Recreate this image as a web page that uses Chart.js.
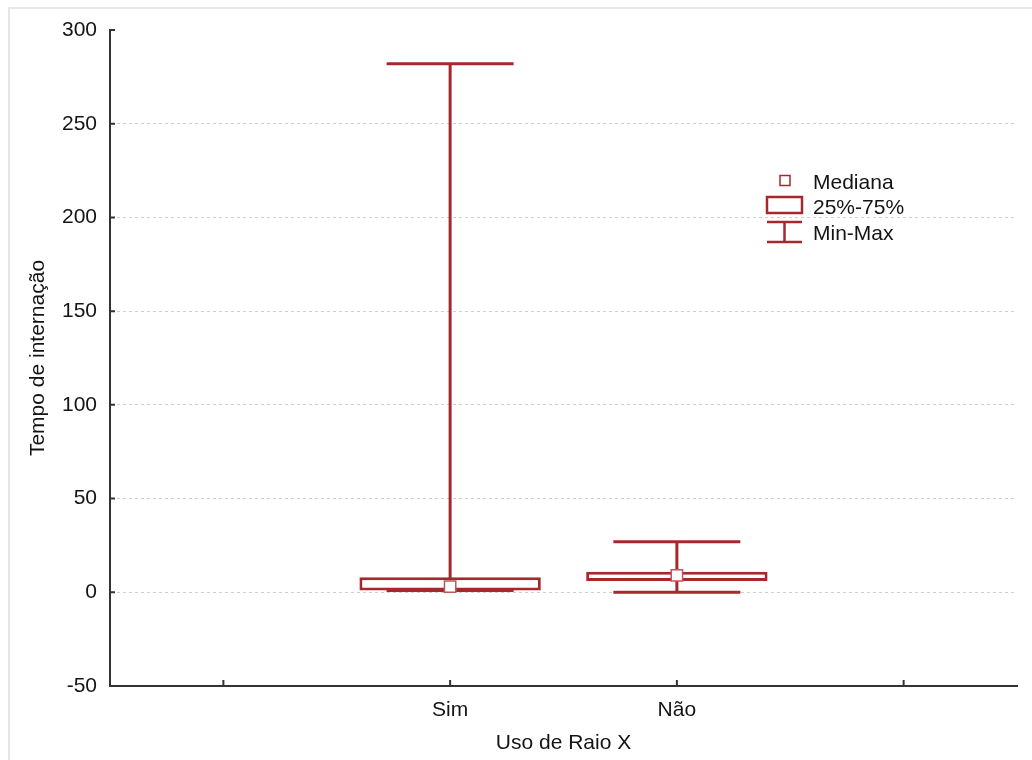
<!DOCTYPE html>
<html lang="pt-br">
<head>
    <meta charset="UTF-8">
    <title>Tempo de internação por uso de Raio X</title>
    <style>
        html, body { margin: 0; padding: 0; background: #ffffff; }
        #wrap { position: relative; width: 1032px; height: 760px; }
    </style>
</head>
<body>
    <div id="wrap">
        <canvas id="boxChart" width="1032" height="760"></canvas>
    </div>

    <script src="https://cdn.jsdelivr.net/npm/chart.js"></script>
    <script>
        // Dados (categorias vazias nas pontas, como no original)
        const categorias = ['', 'Sim', 'Não', ''];
        const minimos   = [null, 1, 0, null];
        const maximos   = [null, 282, 27, null];
        const quartil1  = [null, 1, 6, null];
        const quartil3  = [null, 8, 11, null];
        const medianas  = [null, 3, 9, null];
        const ticksY    = [-50, 0, 50, 100, 150, 200, 250, 300];
        const legenda   = ['Mediana', '25%-75%', 'Min-Max'];

        const vermelho = '#a6282d';
        const corTexto = '#141414';
        const fonte = 'Liberation Sans, Arial, sans-serif';

        // Caixas 25%-75% como barras flutuantes
        const caixas = categorias.map((c, i) => quartil1[i] === null ? null : [quartil1[i], quartil3[i]]);

        // Plugin: bigodes min-max, marcas internas dos eixos, moldura e legenda
        const boxExtras = {
            id: 'boxExtras',
            beforeDatasetsDraw(chart) {
                const { ctx, scales: { x, y } } = chart;
                const slot = x.width / categorias.length;
                ctx.save();
                ctx.strokeStyle = vermelho;
                ctx.lineWidth = 3;
                categorias.forEach((c, i) => {
                    if (minimos[i] === null) return;
                    const px = x.getPixelForValue(i);
                    const yMin = y.getPixelForValue(minimos[i]);
                    const yMax = y.getPixelForValue(maximos[i]);
                    const half = slot * 0.28;
                    ctx.beginPath();
                    ctx.moveTo(px, yMin); ctx.lineTo(px, yMax);
                    ctx.moveTo(px - half, yMax); ctx.lineTo(px + half, yMax);
                    ctx.moveTo(px - half, yMin); ctx.lineTo(px + half, yMin);
                    ctx.stroke();
                });
                ctx.restore();
            },
            afterDraw(chart) {
                const { ctx, chartArea, scales: { x, y } } = chart;
                ctx.save();

                // moldura clara da imagem original
                ctx.strokeStyle = '#e6e6e6';
                ctx.lineWidth = 2;
                ctx.strokeRect(9, 8, 1040, 780);

                // marcas dos eixos voltadas para dentro
                ctx.strokeStyle = '#333333';
                ctx.lineWidth = 2;
                ctx.beginPath();
                ticksY.forEach(v => {
                    const py = y.getPixelForValue(v);
                    ctx.moveTo(chartArea.left, py); ctx.lineTo(chartArea.left + 5, py);
                });
                categorias.forEach((c, i) => {
                    const px = x.getPixelForValue(i);
                    ctx.moveTo(px, chartArea.bottom); ctx.lineTo(px, chartArea.bottom - 6);
                });
                ctx.stroke();

                // legenda
                const lx = 767, lw = 35;
                ctx.strokeStyle = vermelho;
                ctx.fillStyle = '#ffffff';
                ctx.lineWidth = 1.5;
                ctx.fillRect(780, 175.5, 10, 10);
                ctx.strokeRect(780, 175.5, 10, 10);
                ctx.lineWidth = 2.5;
                ctx.strokeRect(lx, 197, lw, 16);
                ctx.beginPath();
                ctx.moveTo(lx, 222); ctx.lineTo(lx + lw, 222);
                ctx.moveTo(lx + lw / 2, 222); ctx.lineTo(lx + lw / 2, 242);
                ctx.moveTo(lx, 242); ctx.lineTo(lx + lw, 242);
                ctx.stroke();

                ctx.fillStyle = corTexto;
                ctx.font = '21px ' + fonte;
                ctx.textAlign = 'left';
                ctx.textBaseline = 'middle';
                ctx.fillText(legenda[0], 813, 183);
                ctx.fillText(legenda[1], 813, 208);
                ctx.fillText(legenda[2], 813, 234);
                ctx.restore();
            }
        };

        new Chart(document.getElementById('boxChart'), {
            data: {
                labels: categorias,
                datasets: [
                    {
                        type: 'bar',
                        label: '25%-75%',
                        data: caixas,
                        backgroundColor: '#ffffff',
                        borderColor: vermelho,
                        borderWidth: 3,
                        borderSkipped: false,
                        barPercentage: 0.8,
                        categoryPercentage: 1,
                        order: 2
                    },
                    {
                        type: 'line',
                        label: 'Mediana',
                        data: medianas,
                        showLine: false,
                        pointStyle: 'rect',
                        pointRadius: 8,
                        pointBackgroundColor: '#ffffff',
                        pointBorderColor: '#c0555a',
                        pointBorderWidth: 1.5,
                        order: 1
                    }
                ]
            },
            options: {
                responsive: false,
                animation: false,
                layout: { padding: { top: 30, right: 15, left: 0, bottom: 0 } },
                plugins: {
                    legend: { display: false },
                    tooltip: { enabled: false }
                },
                scales: {
                    x: {
                        type: 'category',
                        offset: true,
                        grid: { display: false, drawTicks: false },
                        border: { display: true, color: '#333333', width: 2 },
                        ticks: { color: corTexto, padding: 12, font: { family: fonte, size: 21 } },
                        title: {
                            display: true,
                            text: 'Uso de Raio X',
                            color: corTexto,
                            font: { family: fonte, size: 21 },
                            padding: { top: 0, bottom: 4 }
                        },
                        afterFit(scale) { scale.height = 74; }
                    },
                    y: {
                        min: -50,
                        max: 300,
                        afterBuildTicks(scale) { scale.ticks = ticksY.map(v => ({ value: v })); },
                        grid: {
                            drawTicks: false,
                            color: ctx => (ctx.tick && ctx.tick.value >= 0 && ctx.tick.value <= 250) ? '#cfcfcf' : 'rgba(0,0,0,0)',
                            lineWidth: 1
                        },
                        border: { display: true, color: '#333333', width: 2, dash: [3, 3] },
                        ticks: { color: corTexto, padding: 13, font: { family: fonte, size: 21 } },
                        title: {
                            display: true,
                            text: 'Tempo de internação',
                            color: corTexto,
                            font: { family: fonte, size: 21 },
                            padding: { top: 26, bottom: 0 }
                        },
                        afterFit(scale) { scale.width = 110; }
                    }
                }
            },
            plugins: [boxExtras]
        });
    </script>
</body>
</html>
